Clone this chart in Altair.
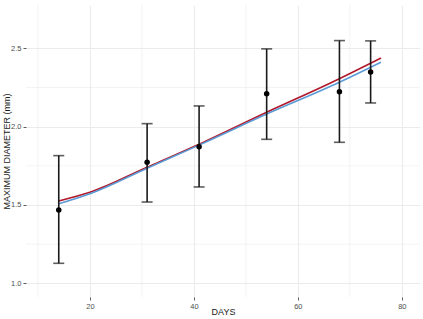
import altair as alt
import pandas as pd

# Observed data (mean with error bars)
days = [14, 31, 41, 54, 68, 74]
mean_d = [1.468, 1.772, 1.872, 2.210, 2.223, 2.349]
lower_d = [1.128, 1.519, 1.615, 1.919, 1.900, 2.151]
upper_d = [1.815, 2.019, 2.132, 2.496, 2.549, 2.547]

# Fitted curves
curve_days = [14, 20, 31, 41, 54, 68, 76]
red_vals = [1.526, 1.581, 1.741, 1.888, 2.092, 2.306, 2.438]
blue_vals = [1.508, 1.572, 1.735, 1.882, 2.080, 2.283, 2.411]

# Grid positions
x_major = [20, 40, 60, 80]
x_minor = [10, 30, 50, 70]
y_major = [1.0, 1.5, 2.0, 2.5]
y_minor = [1.25, 1.75, 2.25]

obs = pd.DataFrame({"day": days, "mean": mean_d, "lo": lower_d, "hi": upper_d})
curves = pd.DataFrame({
    "day": curve_days * 2,
    "val": red_vals + blue_vals,
    "fit": ["red"] * len(curve_days) + ["blue"] * len(curve_days),
})

xs = alt.Scale(domain=[7.7, 83.5], nice=False, zero=False)
ys = alt.Scale(domain=[0.913, 2.776], nice=False, zero=False)

xminor = alt.Chart(pd.DataFrame({"v": x_minor})).mark_rule(
    color="#EBEBEB", strokeWidth=0.6
).encode(x=alt.X("v:Q", scale=xs))
yminor = alt.Chart(pd.DataFrame({"v": y_minor})).mark_rule(
    color="#EBEBEB", strokeWidth=0.6
).encode(y=alt.Y("v:Q", scale=ys))

lines = alt.Chart(curves).mark_line(strokeWidth=1.6, interpolate="monotone").encode(
    x=alt.X("day:Q", scale=xs,
            axis=alt.Axis(values=x_major, title="DAYS", grid=True,
                          titleY=14, titleBaseline="middle")),
    y=alt.Y("val:Q", scale=ys,
            axis=alt.Axis(values=y_major, title="MAXIMUM DIAMETER (mm)", grid=True,
                          format=".1f", titleX=-19.5, titleBaseline="middle")),
    color=alt.Color("fit:N", scale=alt.Scale(domain=["blue", "red"],
                                             range=["#5B9BD5", "#B2182B"]),
                    legend=None),
    order=alt.Order("fit:N", sort="ascending"),
)

bars = alt.Chart(obs).mark_rule(color="#1a1a1a", strokeWidth=1.6).encode(
    x=alt.X("day:Q", scale=xs),
    y=alt.Y("lo:Q", scale=ys),
    y2="hi:Q",
)
caps_lo = alt.Chart(obs).mark_tick(color="#1a1a1a", orient="horizontal",
                                   size=11, thickness=1.6).encode(
    x=alt.X("day:Q", scale=xs), y=alt.Y("lo:Q", scale=ys))
caps_hi = alt.Chart(obs).mark_tick(color="#1a1a1a", orient="horizontal",
                                   size=11, thickness=1.6).encode(
    x=alt.X("day:Q", scale=xs), y=alt.Y("hi:Q", scale=ys))
pts = alt.Chart(obs).mark_point(filled=True, color="black", opacity=1, size=30).encode(
    x=alt.X("day:Q", scale=xs), y=alt.Y("mean:Q", scale=ys))

chart = alt.layer(xminor, yminor, lines, bars, caps_lo, caps_hi, pts).properties(
    width=394, height=292,
    autosize=alt.AutoSizeParams(type="none"),
    padding={"left": 26, "top": 5, "right": 3, "bottom": 22},
).configure_view(stroke=None).configure_axis(
    domain=False,
    tickColor="#333333",
    tickSize=3,
    tickWidth=0.8,
    labelColor="#4D4D4D",
    labelFontSize=7.5,
    labelFont="Liberation Sans",
    labelPadding=2,
    titleFont="Liberation Sans",
    titleFontSize=9,
    titleFontWeight="normal",
    titleColor="#1a1a1a",
    gridColor="#EBEBEB",
    gridWidth=1,
)

chart.save("out.html", embed_options={"renderer": "svg", "actions": False})
